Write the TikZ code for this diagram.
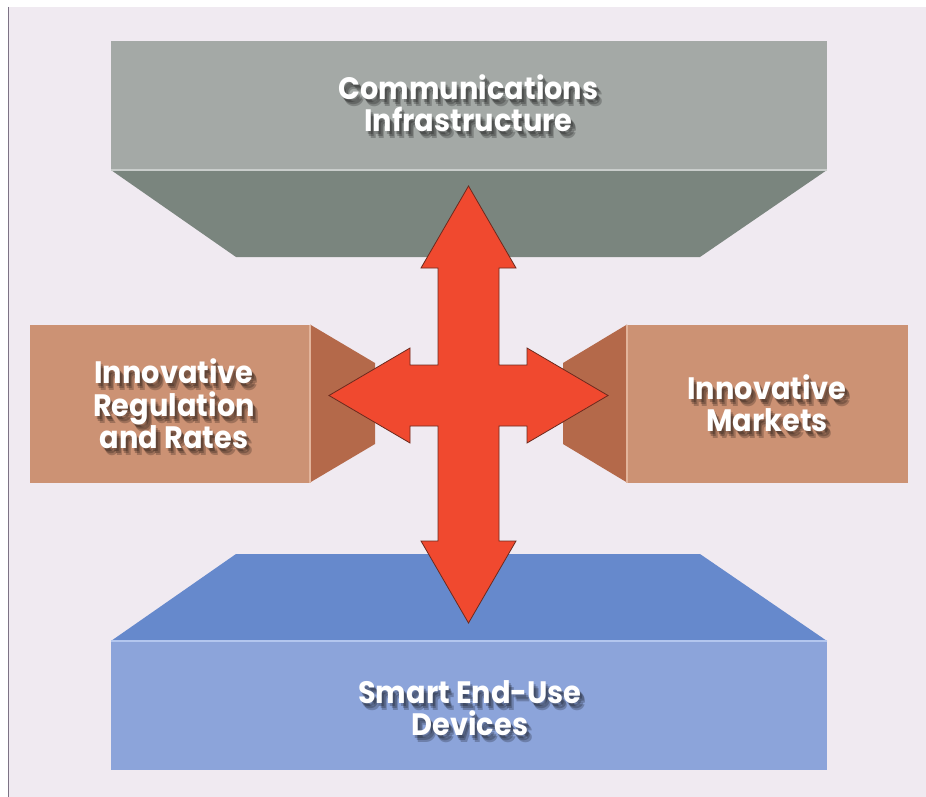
\documentclass[tikz,border=0pt]{standalone}
\usepackage{fontspec}
\setmainfont{Poppins}[UprightFont=* SemiBold, BoldFont=* Bold, FakeStretch=0.93]
\definecolor{bg}{HTML}{F0EAF1}
\definecolor{frameline}{HTML}{7D7385}
\definecolor{topfront}{HTML}{A4A9A6}
\definecolor{topwedge}{HTML}{7A857E}
\definecolor{toplight}{HTML}{C9CDCB}
\definecolor{sidefront}{HTML}{CC9274}
\definecolor{sidewedge}{HTML}{B4694A}
\definecolor{sidelight}{HTML}{E2B49B}
\definecolor{botfront}{HTML}{8CA4DA}
\definecolor{bottop}{HTML}{6689CC}
\definecolor{botlight}{HTML}{B3C6EE}
\definecolor{arrowfill}{HTML}{F0492F}
\definecolor{arrowline}{HTML}{6B2A1E}
\tikzset{
  lbl/.style={text=white, font=\bfseries\fontsize{31}{32.5}\selectfont, align=center, inner sep=0pt},
  shadowlbl/.style={text=black, opacity=0.22, font=\bfseries\fontsize{31}{32.5}\selectfont, align=center, inner sep=0pt},
}
\newcommand{\shadowtext}[3]{%
  \node[shadowlbl] at ([xshift=2pt,yshift=-3pt]#1) {#3};
  \node[shadowlbl] at ([xshift=3.5pt,yshift=-5pt]#1) {#3};
  \node[shadowlbl] at ([xshift=5pt,yshift=-7pt]#1) {#3};
  \node[lbl] (#2) at (#1) {#3};
}
\begin{document}
\begin{tikzpicture}[x=1pt,y=-1pt]
\useasboundingbox (0,0) rectangle (926,797);
\fill[white] (0,0) rectangle (926,797);
\fill[bg] (8,7) rectangle (926,797);
\draw[frameline, line width=1.6pt] (8.5,7) -- (8.5,797);
% top box
\fill[topfront] (111,41) rectangle (827,170);
\fill[topwedge] (111,170) -- (827,170) -- (700,257) -- (236,257) -- cycle;
\draw[toplight, line width=1.2pt] (111,170) -- (827,170);
% bottom box
\fill[bottop] (236,554) -- (700,554) -- (827,641) -- (111,641) -- cycle;
\fill[botfront] (111,641) rectangle (827,770);
\draw[botlight, line width=1.2pt] (111,641) -- (827,641);
% left box
\fill[sidefront] (29.5,324.5) rectangle (310,482.5);
\fill[sidewedge] (310,324.5) -- (375,363) -- (375,444) -- (310,482.5) -- cycle;
\draw[sidelight, line width=1.2pt] (310,324.5) -- (310,482.5);
% right box
\fill[sidefront] (627,324.5) rectangle (908,482.5);
\fill[sidewedge] (627,324.5) -- (563,363) -- (563,444) -- (627,482.5) -- cycle;
\draw[sidelight, line width=1.2pt] (627,324.5) -- (627,482.5);
% four-way arrow
\filldraw[fill=arrowfill, draw=arrowline, line width=0.8pt, line join=miter]
  (468.5,186) -- (516,268) -- (499,268) -- (499,365) -- (527,365) -- (527,348)
  -- (608,395.5) -- (527,443) -- (527,426) -- (499,426) -- (499,541) -- (516,541)
  -- (468.5,623) -- (421,541) -- (438,541) -- (438,426) -- (410,426) -- (410,443)
  -- (329,395.5) -- (410,348) -- (410,365) -- (438,365) -- (438,268) -- (421,268)
  -- cycle;
% labels
\shadowtext{468.5,103}{comm}{Communications\\Infrastructure}
\shadowtext{174,404}{reg}{Innovative\\Regulation\\and Rates}
\shadowtext{767,403}{mkt}{Innovative\\Markets}
\shadowtext{470,708}{dev}{Smart End-Use\\Devices}
\end{tikzpicture}
\end{document}
